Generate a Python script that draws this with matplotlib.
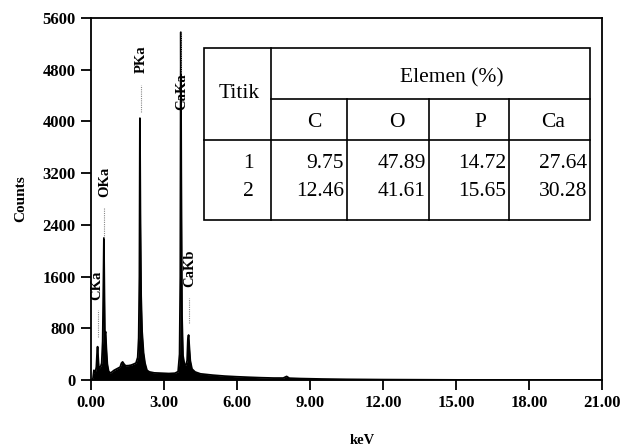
"""
EDS spectrum with element composition table (Titik 1 & 2)
"""
import matplotlib
matplotlib.use('Agg')
import matplotlib.pyplot as plt
from matplotlib.lines import Line2D

# Spectrum (keV, counts)
energy = [0.00, 0.08, 0.12, 0.18, 0.22, 0.25, 0.27, 0.29, 0.32, 0.36, 0.40, 0.44,
          0.48, 0.51, 0.53, 0.55, 0.57, 0.60, 0.63, 0.67, 0.72, 0.78, 0.85, 0.95,
          1.05, 1.13, 1.20, 1.25, 1.30, 1.35, 1.42, 1.54, 1.65, 1.75, 1.85, 1.92,
          1.96, 1.99, 2.01, 2.03, 2.06, 2.10, 2.16, 2.22, 2.30, 2.40, 2.60, 2.90,
          3.20, 3.45, 3.58, 3.64, 3.67, 3.69, 3.71, 3.74, 3.78, 3.84, 3.90, 3.95,
          3.98, 4.01, 4.04, 4.08, 4.15, 4.28, 4.50, 5.00, 5.50, 6.00, 6.50, 7.00,
          7.50, 7.90, 8.04, 8.15, 8.60, 9.50, 10.5, 12.0, 14.0, 16.0, 21.0]
counts = [0, 20, 150, 120, 200, 420, 515, 380, 200, 190, 210, 260,
          600, 1500, 2197, 1400, 700, 747, 500, 250, 140, 108, 120, 150,
          170, 186, 200, 260, 280, 250, 220, 222, 230, 245, 263, 350,
          650, 1600, 4050, 2600, 1300, 750, 420, 260, 150, 125, 110, 105,
          100, 105, 130, 400, 1600, 5380, 3200, 1000, 380, 240, 232, 300,
          620, 696, 520, 300, 170, 124, 95, 75, 60, 50, 42, 35,
          30, 30, 55, 28, 22, 15, 10, 6, 3, 0, 0]

# Peak labels
peak_names = ['CKa', 'OKa', 'PKa', 'CaKa', 'CaKb']
peak_text_x = [0.24, 0.55, 2.05, 3.72, 4.05]
peak_text_y = [1240, 2830, 4750, 4180, 1440]
peak_line_x = [0.27, 0.52, 2.05, 3.71, 4.04]
peak_line_lo = [665, 2197, 4150, 4750, 880]
peak_line_hi = [1083, 2660, 4565, 5385, 1270]

# Table data
elements = ['C', 'O', 'P', 'Ca']
titik = ['1', '2']
titik1 = ['9.75', '47.89', '14.72', '27.64']
titik2 = ['12.46', '41.61', '15.65', '30.28']

x_ticks = [0, 3, 6, 9, 12, 15, 18, 21]
y_ticks = [0, 800, 1600, 2400, 3200, 4000, 4800, 5600]

W, H = 626, 448
fig = plt.figure(figsize=(W / 100, H / 100), dpi=100)
ax = fig.add_axes([91 / W, 1 - 380 / H, (602 - 91) / W, (380 - 18) / H])

ax.fill_between(energy, counts, 0, color='black', lw=0)
ax.plot(energy, counts, color='black', lw=1.3)

serif = 'Liberation Serif'
for name, tx, ty, lx, lo, hi in zip(peak_names, peak_text_x, peak_text_y,
                                    peak_line_x, peak_line_lo, peak_line_hi):
    ax.plot([lx, lx], [lo, hi], color='#888888', lw=0.8, ls=(0, (1, 1)))
    ax.text(tx, ty, name, rotation=90, ha='center', va='bottom',
            family=serif, fontweight='bold', fontsize=10.5)

tick_font = dict(family=serif, fontweight='bold', fontsize=12)
ax.set_xlim(0, 21)
ax.set_ylim(0, 5600)
ax.set_xticks(x_ticks)
ax.set_xticklabels([f'{v:.2f}' for v in x_ticks], **tick_font)
ax.set_yticks(y_ticks)
ax.set_yticklabels([str(v) for v in y_ticks], **tick_font)
ax.tick_params(direction='out', length=7, width=1.3, pad=4)
for side in ax.spines:
    ax.spines[side].set_linewidth(1.3)

ax.set_xlabel('keV', family=serif, fontweight='bold', fontsize=10.5)
ax.xaxis.set_label_coords(0.53, -0.15)
ax.set_ylabel('Counts', family=serif, fontweight='bold', fontsize=11)
ax.yaxis.set_label_coords(-0.125, 0.5)

# Table (pixel layout -> figure fraction)
def fx(px):
    return px / W

def fy(py):
    return 1 - py / H

left, right, top, mid, hdr, bottom = 204, 590, 48, 99, 140, 220
col_edges = [271, 347, 429, 509, 590]
head_x = [314, 397, 480, 553]

fig.patches.append(plt.Rectangle((fx(left), fy(bottom)), fx(right) - fx(left),
                                 fy(top) - fy(bottom), transform=fig.transFigure,
                                 facecolor='white', edgecolor='black', lw=1.2))
tline = dict(color='black', lw=1.2, transform=fig.transFigure)
fig.lines.append(Line2D([fx(col_edges[0])] * 2, [fy(top), fy(bottom)], **tline))
fig.lines.append(Line2D([fx(col_edges[0]), fx(right)], [fy(mid)] * 2, **tline))
fig.lines.append(Line2D([fx(left), fx(right)], [fy(hdr)] * 2, **tline))
for cx in col_edges[1:-1]:
    fig.lines.append(Line2D([fx(cx)] * 2, [fy(mid), fy(bottom)], **tline))

tfs = 15.5
fig.text(fx(239), fy(93), 'Titik',
         ha='center', va='center', family=serif, fontsize=tfs)
fig.text(fx(452), fy(78), 'Elemen (%)',
         ha='center', va='center', family=serif, fontsize=tfs)
for el, hx in zip(elements, head_x):
    fig.text(fx(hx), fy(122), el, ha='center', va='center',
             family=serif, fontsize=tfs)

row_y = [163, 191]
for r, (t, vals) in enumerate(zip(titik, [titik1, titik2])):
    fig.text(fx(254), fy(row_y[r]), t, ha='right', va='center',
             family=serif, fontsize=tfs)
    for i, v in enumerate(vals):
        fig.text(fx(col_edges[i + 1] - 3), fy(row_y[r]), v, ha='right',
                 va='center', family=serif, fontsize=tfs)

fig.savefig('out.png', dpi=100)
